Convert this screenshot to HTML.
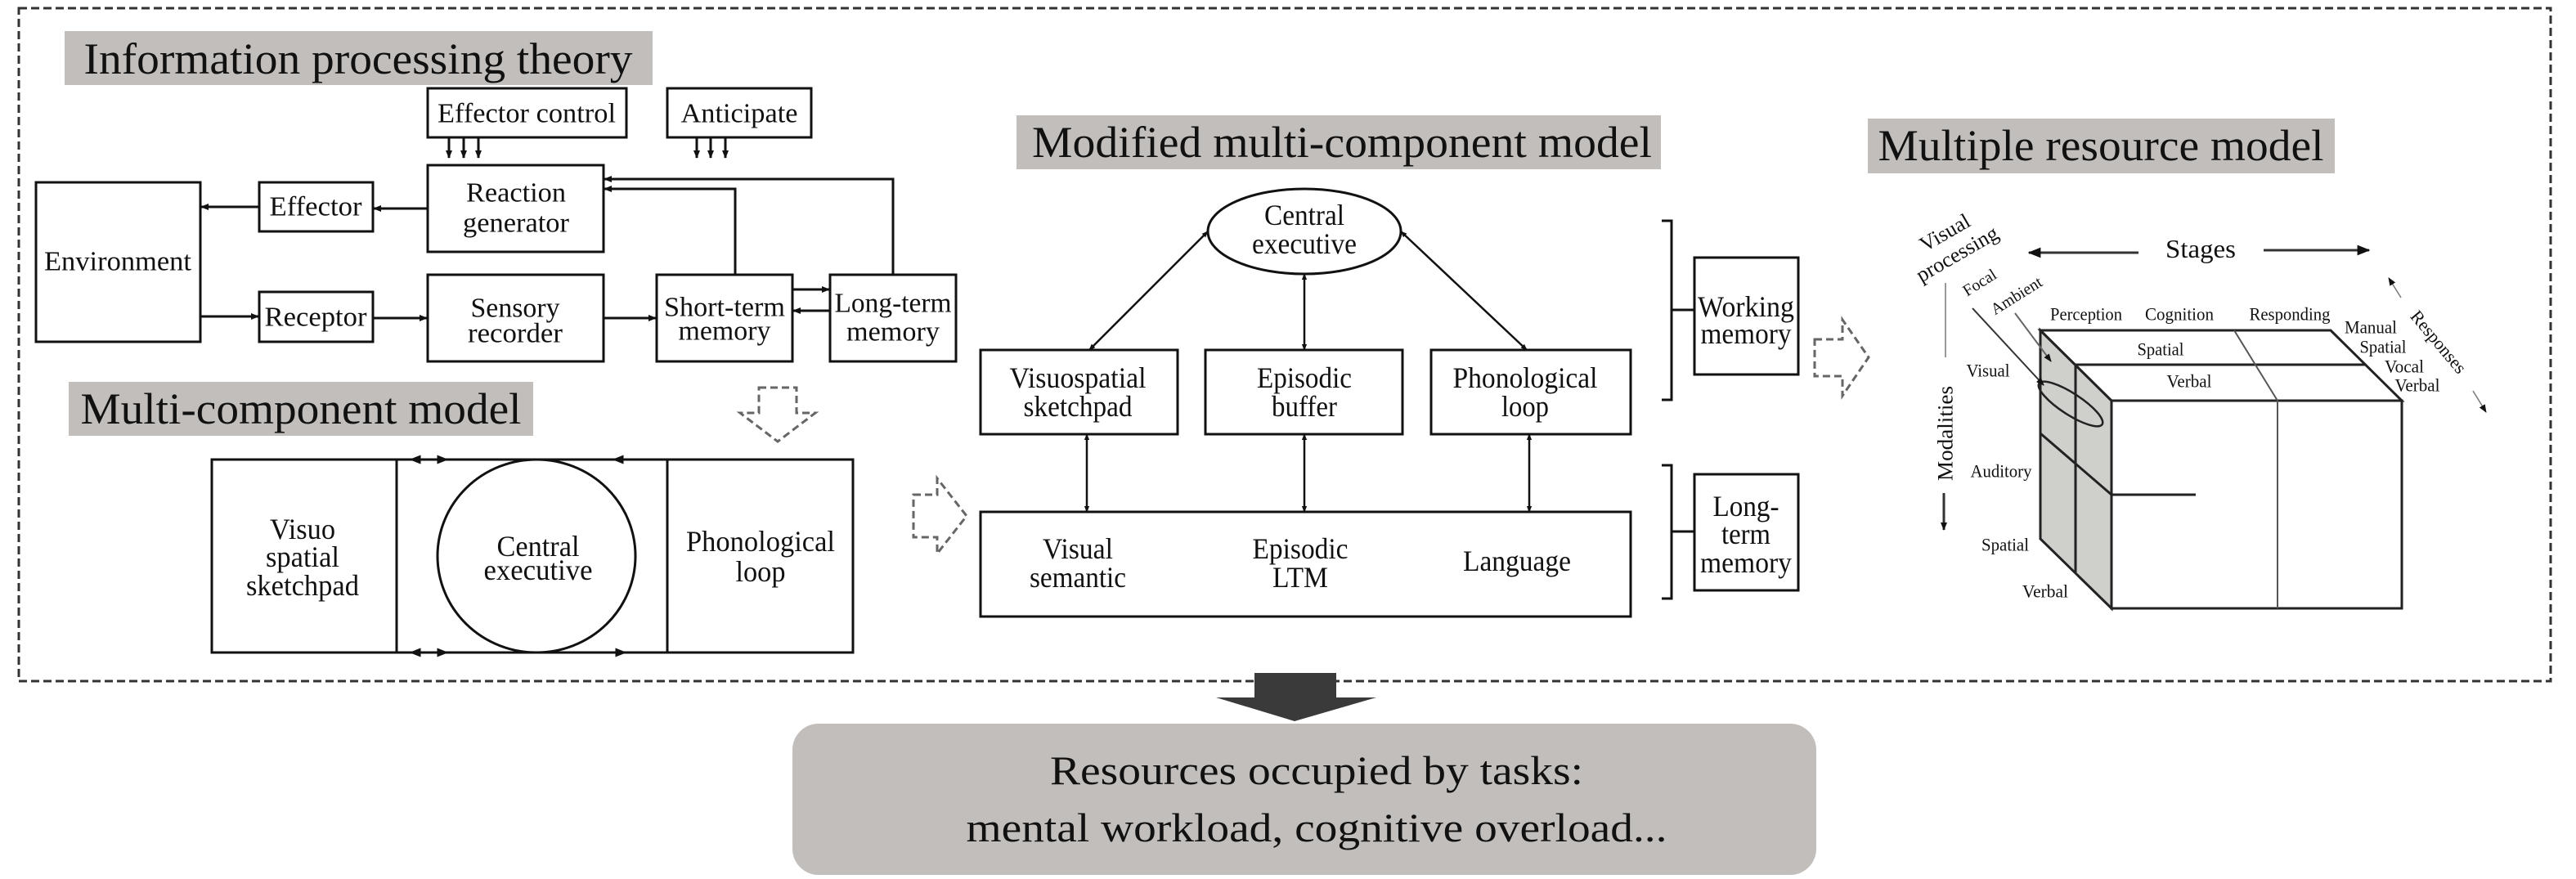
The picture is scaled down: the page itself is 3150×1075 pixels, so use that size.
<!DOCTYPE html>
<html><head><meta charset="utf-8"><style>
html,body{margin:0;padding:0;background:#fff;}
svg{display:block;font-family:"Liberation Serif","DejaVu Serif",serif;}
svg text{font-family:"Liberation Serif","DejaVu Serif",serif;fill:#111;}
</style></head><body>
<svg width="3150" height="1075" viewBox="0 0 3150 1075" xmlns="http://www.w3.org/2000/svg" font-family="Liberation Serif, DejaVu Serif, serif">
<defs>
<marker id="ah" viewBox="0 0 10 10" refX="9" refY="5" markerWidth="8" markerHeight="8" orient="auto-start-reverse" markerUnits="userSpaceOnUse">
<path d="M0,1 L10,5 L0,9 z" fill="#111"/></marker>
<marker id="as" viewBox="0 0 10 10" refX="9" refY="5" markerWidth="10" markerHeight="10" orient="auto-start-reverse" markerUnits="userSpaceOnUse">
<path d="M0,1 L10,5 L0,9 z" fill="#111"/></marker>
<marker id="ab" viewBox="0 0 10 10" refX="9" refY="5" markerWidth="14" markerHeight="14" orient="auto-start-reverse" markerUnits="userSpaceOnUse">
<path d="M0,1 L10,5 L0,9 z" fill="#111"/></marker>
<marker id="am" viewBox="0 0 10 10" refX="9" refY="5" markerWidth="16" markerHeight="16" orient="auto-start-reverse" markerUnits="userSpaceOnUse">
<path d="M0,1 L10,5 L0,9 z" fill="#111"/></marker>
</defs>

<rect x="23" y="10" width="3096" height="823" fill="none" stroke="#333" stroke-width="3" stroke-dasharray="10,5"/>

<!-- ===== Information processing theory ===== -->
<rect x="79" y="38" width="719" height="66" fill="#c2bebb"/>
<text x="438" y="72" font-size="54" text-anchor="middle" dominant-baseline="central" textLength="671" lengthAdjust="spacingAndGlyphs">Information processing theory</text>

<g fill="#fff" stroke="#111" stroke-width="3">
<rect x="523" y="108" width="243" height="60"/>
<rect x="816" y="108" width="176" height="60"/>
<rect x="523" y="202" width="215" height="106"/>
<rect x="317" y="223" width="139" height="60"/>
<rect x="44" y="223" width="201" height="195"/>
<rect x="317" y="357" width="139" height="61"/>
<rect x="523" y="336" width="215" height="106"/>
<rect x="803" y="336" width="166" height="106"/>
<rect x="1015" y="336" width="154" height="106"/>
</g>
<g font-size="34" text-anchor="middle" dominant-baseline="central">
<text x="644" y="139" textLength="218" lengthAdjust="spacingAndGlyphs">Effector control</text>
<text x="904" y="139" textLength="143" lengthAdjust="spacingAndGlyphs">Anticipate</text>
<text x="631" y="236" textLength="122" lengthAdjust="spacingAndGlyphs">Reaction</text>
<text x="631" y="273" textLength="130" lengthAdjust="spacingAndGlyphs">generator</text>
<text x="386" y="253" textLength="113" lengthAdjust="spacingAndGlyphs">Effector</text>
<text x="144" y="320" textLength="180" lengthAdjust="spacingAndGlyphs">Environment</text>
<text x="386" y="388" textLength="125" lengthAdjust="spacingAndGlyphs">Receptor</text>
<text x="630" y="377" textLength="109" lengthAdjust="spacingAndGlyphs">Sensory</text>
<text x="630" y="408" textLength="116" lengthAdjust="spacingAndGlyphs">recorder</text>
<text x="886" y="376" textLength="148" lengthAdjust="spacingAndGlyphs">Short-term</text>
<text x="886" y="405" textLength="113" lengthAdjust="spacingAndGlyphs">memory</text>
<text x="1092" y="371" textLength="143" lengthAdjust="spacingAndGlyphs">Long-term</text>
<text x="1092" y="406" textLength="114" lengthAdjust="spacingAndGlyphs">memory</text>
</g>
<g stroke="#111" stroke-width="3" fill="none">
<line x1="549" y1="168" x2="549" y2="193" marker-end="url(#as)"/>
<line x1="567" y1="168" x2="567" y2="193" marker-end="url(#as)"/>
<line x1="585" y1="168" x2="585" y2="193" marker-end="url(#as)"/>
<line x1="852" y1="168" x2="852" y2="193" marker-end="url(#as)"/>
<line x1="869" y1="168" x2="869" y2="193" marker-end="url(#as)"/>
<line x1="887" y1="168" x2="887" y2="193" marker-end="url(#as)"/>
<line x1="523" y1="255" x2="457" y2="255" marker-end="url(#as)"/>
<line x1="317" y1="253" x2="246" y2="253" marker-end="url(#as)"/>
<line x1="245" y1="387" x2="316" y2="387" marker-end="url(#as)"/>
<line x1="456" y1="389" x2="522" y2="389" marker-end="url(#as)"/>
<line x1="738" y1="389" x2="802" y2="389" marker-end="url(#as)"/>
<line x1="969" y1="354" x2="1014" y2="354" marker-end="url(#as)"/>
<line x1="1015" y1="380" x2="970" y2="380" marker-end="url(#as)"/>
<polyline points="899,336 899,231 739,231" marker-end="url(#as)"/>
<polyline points="1092,336 1092,219 739,219" marker-end="url(#as)"/>
</g>

<path d="M928,474 L974,474 L974,505 L997,505 L951,540 L905,505 L928,505 Z" fill="#fff" stroke="#666" stroke-width="3" stroke-dasharray="9,5"/>

<!-- ===== Multi-component model ===== -->
<rect x="84" y="467" width="568" height="66" fill="#c2bebb"/>
<text x="368" y="500" font-size="54" text-anchor="middle" dominant-baseline="central" textLength="539" lengthAdjust="spacingAndGlyphs">Multi-component model</text>
<g stroke="#111" stroke-width="3" fill="#fff">
<rect x="259" y="562" width="784" height="236"/>
<line x1="485" y1="562" x2="485" y2="798"/>
<line x1="816" y1="562" x2="816" y2="798"/>
<ellipse cx="656" cy="680" rx="121" ry="118"/>
</g>
<g stroke="#111" stroke-width="3">
<line x1="524" y1="562" x2="502" y2="562" marker-end="url(#ab)"/>
<line x1="524" y1="562" x2="547" y2="562" marker-end="url(#ab)"/>
<line x1="775" y1="562" x2="750" y2="562" marker-end="url(#ab)"/>
<line x1="524" y1="798" x2="502" y2="798" marker-end="url(#ab)"/>
<line x1="524" y1="798" x2="547" y2="798" marker-end="url(#ab)"/>
<line x1="740" y1="798" x2="765" y2="798" marker-end="url(#ab)"/>
</g>
<g font-size="36" text-anchor="middle" dominant-baseline="central">
<text x="370" y="647" textLength="80" lengthAdjust="spacingAndGlyphs">Visuo</text>
<text x="370" y="681" textLength="90" lengthAdjust="spacingAndGlyphs">spatial</text>
<text x="370" y="716" textLength="138" lengthAdjust="spacingAndGlyphs">sketchpad</text>
<text x="658" y="668" textLength="101" lengthAdjust="spacingAndGlyphs">Central</text>
<text x="658" y="697" textLength="133" lengthAdjust="spacingAndGlyphs">executive</text>
<text x="930" y="662" textLength="182" lengthAdjust="spacingAndGlyphs">Phonological</text>
<text x="930" y="699" textLength="61" lengthAdjust="spacingAndGlyphs">loop</text>
</g>

<path d="M1117,605 L1146,605 L1146,585 L1182,631 L1146,677 L1146,657 L1117,657 Z" fill="#fff" stroke="#666" stroke-width="3" stroke-dasharray="9,5"/>

<!-- ===== Modified multi-component model ===== -->
<rect x="1243" y="141" width="788" height="66" fill="#c2bebb"/>
<text x="1641" y="174" font-size="54" text-anchor="middle" dominant-baseline="central" textLength="758" lengthAdjust="spacingAndGlyphs">Modified multi-component model</text>
<g stroke="#111" stroke-width="3" fill="#fff">
<ellipse cx="1595" cy="283" rx="118" ry="52"/>
<rect x="1199" y="428" width="241" height="103"/>
<rect x="1474" y="428" width="241" height="103"/>
<rect x="1750" y="428" width="244" height="103"/>
<rect x="1199" y="626" width="795" height="128"/>
</g>
<g stroke="#111" stroke-width="2.5">
<line x1="1332" y1="428" x2="1477" y2="283" marker-start="url(#ah)" marker-end="url(#ah)"/>
<line x1="1595" y1="428" x2="1595" y2="335" marker-start="url(#ah)" marker-end="url(#ah)"/>
<line x1="1867" y1="428" x2="1713" y2="283" marker-start="url(#ah)" marker-end="url(#ah)"/>
<line x1="1329" y1="531" x2="1329" y2="626" marker-start="url(#ah)" marker-end="url(#ah)"/>
<line x1="1595" y1="531" x2="1595" y2="626" marker-start="url(#ah)" marker-end="url(#ah)"/>
<line x1="1870" y1="531" x2="1870" y2="626" marker-start="url(#ah)" marker-end="url(#ah)"/>
</g>
<g font-size="36" text-anchor="middle" dominant-baseline="central">
<text x="1595" y="263" textLength="98" lengthAdjust="spacingAndGlyphs">Central</text>
<text x="1595" y="298" textLength="128" lengthAdjust="spacingAndGlyphs">executive</text>
<text x="1318" y="462" textLength="167" lengthAdjust="spacingAndGlyphs">Visuospatial</text>
<text x="1318" y="497" textLength="133" lengthAdjust="spacingAndGlyphs">sketchpad</text>
<text x="1595" y="462" textLength="116" lengthAdjust="spacingAndGlyphs">Episodic</text>
<text x="1595" y="497" textLength="80" lengthAdjust="spacingAndGlyphs">buffer</text>
<text x="1865" y="462" textLength="177" lengthAdjust="spacingAndGlyphs">Phonological</text>
<text x="1865" y="497" textLength="58" lengthAdjust="spacingAndGlyphs">loop</text>
<text x="1318" y="671" textLength="86" lengthAdjust="spacingAndGlyphs">Visual</text>
<text x="1318" y="706" textLength="118" lengthAdjust="spacingAndGlyphs">semantic</text>
<text x="1590" y="671" textLength="117" lengthAdjust="spacingAndGlyphs">Episodic</text>
<text x="1590" y="706" textLength="68" lengthAdjust="spacingAndGlyphs">LTM</text>
<text x="1855" y="686" textLength="132" lengthAdjust="spacingAndGlyphs">Language</text>
</g>
<g stroke="#111" stroke-width="3" fill="none">
<polyline points="2032,270 2044,270 2044,489 2032,489"/>
<line x1="2044" y1="379" x2="2072" y2="379"/>
<polyline points="2032,569 2044,569 2044,732 2032,732"/>
<line x1="2044" y1="650" x2="2072" y2="650"/>
<rect x="2072" y="315" width="127" height="143" fill="#fff"/>
<rect x="2072" y="580" width="127" height="142" fill="#fff"/>
</g>
<g font-size="36" text-anchor="middle" dominant-baseline="central">
<text x="2135" y="375" textLength="118" lengthAdjust="spacingAndGlyphs">Working</text>
<text x="2135" y="408" textLength="111" lengthAdjust="spacingAndGlyphs">memory</text>
<text x="2135" y="619" textLength="81" lengthAdjust="spacingAndGlyphs">Long-</text>
<text x="2135" y="653" textLength="60" lengthAdjust="spacingAndGlyphs">term</text>
<text x="2135" y="688" textLength="112" lengthAdjust="spacingAndGlyphs">memory</text>
</g>
<path d="M2219,415 L2253,415 L2253,391 L2285,437 L2253,484 L2253,460 L2219,460 Z" fill="#fff" stroke="#666" stroke-width="3" stroke-dasharray="9,5"/>

<!-- ===== Multiple resource model ===== -->
<rect x="2284" y="145" width="571" height="67" fill="#c2bebb"/>
<text x="2569" y="178" font-size="54" text-anchor="middle" dominant-baseline="central" textLength="545" lengthAdjust="spacingAndGlyphs">Multiple resource model</text>

<text x="2691" y="304" font-size="32" text-anchor="middle" dominant-baseline="central" textLength="86" lengthAdjust="spacingAndGlyphs">Stages</text>
<g stroke="#333" stroke-width="3">
<line x1="2615" y1="309" x2="2481" y2="309" marker-end="url(#am)"/>
<line x1="2768" y1="306" x2="2897" y2="306" marker-end="url(#am)"/>
<line x1="2379" y1="346" x2="2379" y2="437" stroke="#999" stroke-width="2"/>
<line x1="2377" y1="603" x2="2377" y2="648" marker-end="url(#as)"/>
<line x1="2936" y1="364" x2="2921" y2="340" stroke="#777" stroke-width="1.5" marker-end="url(#as)"/>
<line x1="3024" y1="478" x2="3040" y2="504" stroke="#777" stroke-width="1.5" marker-end="url(#as)"/>
</g>
<text transform="translate(2386,298) rotate(-30)" font-size="26" text-anchor="middle" dominant-baseline="central"><tspan x="0" dy="-16">Visual</tspan><tspan x="0" dy="30">processing</tspan></text>
<text transform="translate(2421,346) rotate(-32)" font-size="20" text-anchor="middle" dominant-baseline="central">Focal</text>
<text transform="translate(2466,362) rotate(-32)" font-size="20" text-anchor="middle" dominant-baseline="central">Ambient</text>
<text transform="translate(2379,530) rotate(-90)" font-size="26" text-anchor="middle" dominant-baseline="central" textLength="116" lengthAdjust="spacingAndGlyphs">Modalities</text>
<text transform="translate(2982,418) rotate(50)" font-size="22" text-anchor="middle" dominant-baseline="central">Responses</text>

<g stroke="#222" stroke-width="3" fill="none">
<polygon points="2495,404 2582,490 2582,744 2495,659" fill="#cfcfcc"/>
<polygon points="2495,404 2850,404 2937,490 2582,490" fill="#fff"/>
<rect x="2582" y="490" width="355" height="254" fill="#fff"/>
<line x1="2538" y1="446" x2="2893" y2="446"/>
<line x1="2538" y1="446" x2="2538" y2="700"/>
<line x1="2732" y1="404" x2="2785" y2="490" stroke="#555" stroke-width="2"/>
<line x1="2785" y1="490" x2="2785" y2="744" stroke="#555" stroke-width="2"/>
<polyline points="2495,530 2582,605 2685,605"/>
<ellipse cx="2532" cy="494" rx="46" ry="13" transform="rotate(33 2532 494)" stroke-width="2.5"/>
</g>
<g stroke="#333" stroke-width="2">
<line x1="2412" y1="377" x2="2499" y2="471" marker-end="url(#as)"/>
<line x1="2464" y1="383" x2="2508" y2="442" stroke="#666" marker-end="url(#as)"/>
</g>
<g font-size="22" text-anchor="middle" dominant-baseline="central">
<text x="2551" y="384" textLength="88" lengthAdjust="spacingAndGlyphs">Perception</text>
<text x="2665" y="384" textLength="84" lengthAdjust="spacingAndGlyphs">Cognition</text>
<text x="2800" y="384" textLength="99" lengthAdjust="spacingAndGlyphs">Responding</text>
<text x="2642" y="427" textLength="57" lengthAdjust="spacingAndGlyphs">Spatial</text>
<text x="2677" y="466" textLength="55" lengthAdjust="spacingAndGlyphs">Verbal</text>
<text x="2899" y="400" textLength="64" lengthAdjust="spacingAndGlyphs">Manual</text>
<text x="2914" y="424" textLength="57" lengthAdjust="spacingAndGlyphs">Spatial</text>
<text x="2940" y="448" textLength="48" lengthAdjust="spacingAndGlyphs">Vocal</text>
<text x="2956" y="471" textLength="55" lengthAdjust="spacingAndGlyphs">Verbal</text>
<text x="2431" y="453" textLength="53" lengthAdjust="spacingAndGlyphs">Visual</text>
<text x="2447" y="576" textLength="75" lengthAdjust="spacingAndGlyphs">Auditory</text>
<text x="2452" y="666" textLength="58" lengthAdjust="spacingAndGlyphs">Spatial</text>
<text x="2501" y="723" textLength="56" lengthAdjust="spacingAndGlyphs">Verbal</text>
</g>

<!-- ===== bottom ===== -->
<path d="M1534,823 L1634,823 L1634,853 L1683,853 L1583,882 L1487,853 L1534,853 Z" fill="#3a3a3a"/>
<rect x="969" y="885" width="1252" height="185" rx="32" ry="32" fill="#c2bebb"/>
<g font-size="50" text-anchor="middle" dominant-baseline="central">
<text x="1610" y="942" textLength="652" lengthAdjust="spacingAndGlyphs">Resources occupied by tasks:</text>
<text x="1610" y="1012" textLength="857" lengthAdjust="spacingAndGlyphs">mental workload, cognitive overload...</text>
</g>
</svg>
</body></html>
